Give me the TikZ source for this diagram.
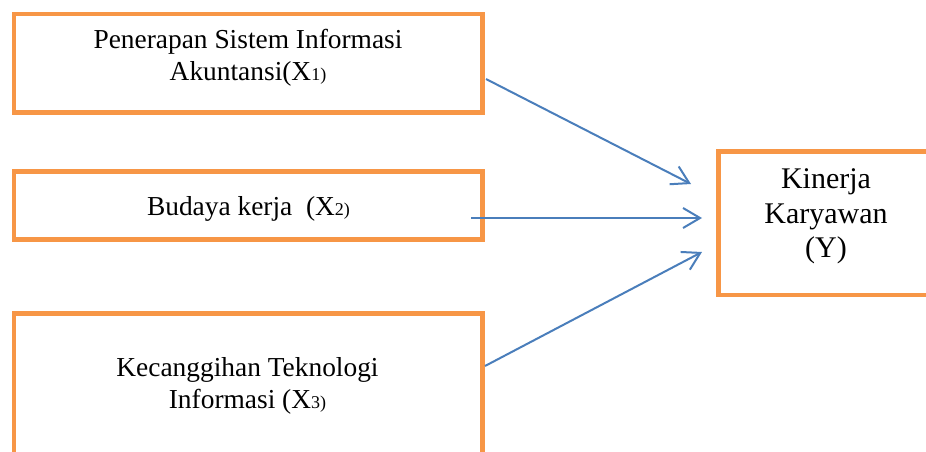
\documentclass[tikz,border=0pt]{standalone}
\usepackage{fontspec}
\setmainfont{Liberation Serif}
\usetikzlibrary{arrows.meta}
\definecolor{boxorange}{HTML}{F79646}
\definecolor{arrowblue}{HTML}{4A7EBB}
\newcommand{\smallsub}[1]{{\fontsize{18}{18}\selectfont #1}}
\begin{document}
\begin{tikzpicture}[x=1pt,y=-1pt,
  frame/.style={draw=boxorange,line width=4.5pt,inner sep=0pt,minimum width=468.5pt},
  lbl/.style={align=center,inner sep=0pt,font=\fontsize{27.4}{32}\selectfont},
  lbly/.style={align=center,inner sep=0pt,font=\fontsize{30}{34.5}\selectfont},
  link/.style={draw=arrowblue,line width=2pt,-{Straight Barb[length=17pt,width=20pt]}}]
\useasboundingbox (0,0) rectangle (926,452);
\clip (0,0) rectangle (926,452);
\node[frame,minimum height=98.5pt] (b1) at (248.25,63.25) {};
\node[frame,minimum height=68pt] (b2) at (248.25,205.5) {};
\node[frame,minimum height=144.5pt] (b3) at (248.25,385.75) {};
\node[draw=boxorange,line width=4.5pt,inner sep=0pt,minimum width=215pt,minimum height=143.3pt] (by) at (826,223.3) {};
\node[lbl] (t1) at (248,58.2) {Penerapan Sistem Informasi\\Akuntansi(X\smallsub{1)}};
\node[lbl] (t2) at (248.5,208.5) {Budaya kerja \ (X\smallsub{2)}};
\node[lbl] (t3) at (247.5,385.5) {Kecanggihan Teknologi\\Informasi (X\smallsub{3)}};
\node[lbly] (ty) at (826,216.7) {Kinerja\\Karyawan\\(Y)};
\coordinate (s1) at (486,79);
\coordinate (e1) at (691,184);
\coordinate (s2) at (471,218);
\coordinate (e2) at (702,218);
\coordinate (s3) at (485,366);
\coordinate (e3) at (702,252);
\draw[link] (s1) -- (e1);
\draw[link] (s2) -- (e2);
\draw[link] (s3) -- (e3);
\end{tikzpicture}
\end{document}
